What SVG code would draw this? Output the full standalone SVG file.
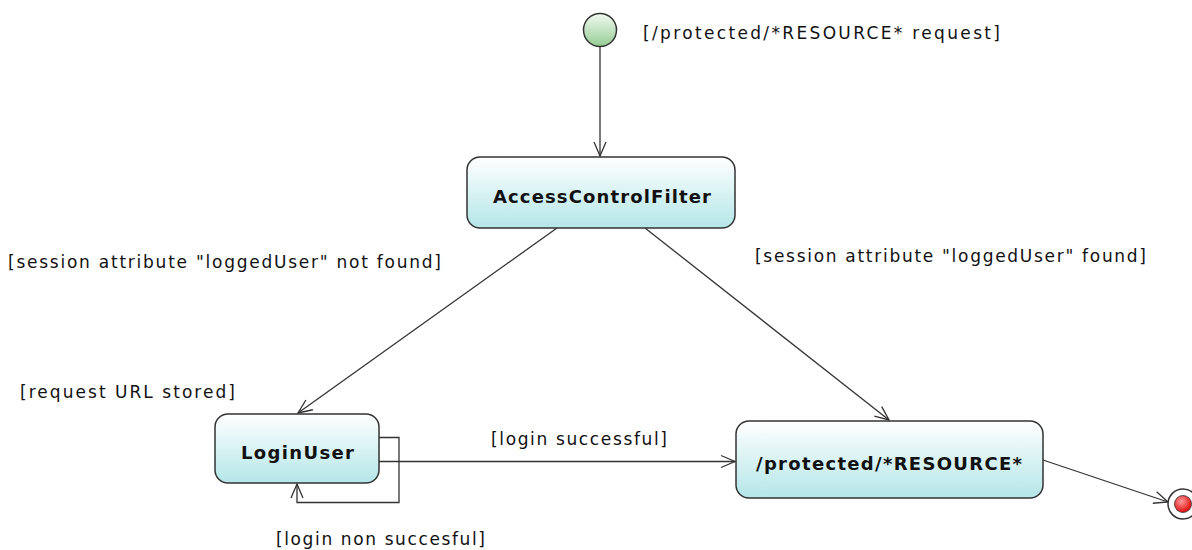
<svg xmlns="http://www.w3.org/2000/svg" width="1192" height="550" viewBox="0 0 1192 550">
<defs>
<linearGradient id="boxg" x1="0" y1="0" x2="0" y2="1">
<stop offset="0" stop-color="#ffffff"/>
<stop offset="1" stop-color="#b4e6e8"/>
</linearGradient>
<linearGradient id="startg" x1="0" y1="0" x2="0" y2="1">
<stop offset="0" stop-color="#f2faf2"/>
<stop offset="1" stop-color="#94cc94"/>
</linearGradient>
<radialGradient id="endg" cx="0.4" cy="0.35" r="0.7">
<stop offset="0" stop-color="#ff9a9a"/>
<stop offset="1" stop-color="#e00000"/>
</radialGradient>
<marker id="arr" viewBox="0 0 16 16" refX="15" refY="8" markerWidth="16" markerHeight="16" markerUnits="userSpaceOnUse" orient="auto">
<path d="M1,2 L15,8 L1,14" fill="none" stroke="#333" stroke-width="1.3"/>
</marker>
<style>
.box{fill:url(#boxg);stroke:#333;stroke-width:1.5}
.name{font-family:"DejaVu Sans",sans-serif;font-weight:bold;font-size:18px;fill:#111;text-anchor:middle}
.lbl{font-family:"DejaVu Sans",sans-serif;font-size:17px;fill:#111}
.con{fill:none;stroke:#333;stroke-width:1.3}
</style>
</defs>
<rect width="1192" height="550" fill="#fff"/>
<g id="connectors">
<line class="con" x1="600" y1="47" x2="600" y2="156" marker-end="url(#arr)"/>
<line class="con" x1="557" y1="228" x2="298" y2="413" marker-end="url(#arr)"/>
<line class="con" x1="645" y1="228" x2="889" y2="420" marker-end="url(#arr)"/>
<line class="con" x1="379" y1="461.5" x2="735" y2="461.5" marker-end="url(#arr)"/>
<polyline class="con" points="379,437.5 399,437.5 399,502.5 297,502.5 297,484" marker-end="url(#arr)"/>
<line class="con" x1="1043" y1="460" x2="1168" y2="502" marker-end="url(#arr)"/>
</g>
<g id="start">
<circle cx="600" cy="30" r="16.5" fill="url(#startg)" stroke="#333" stroke-width="1.5"/>
</g>
<g id="end">
<circle cx="1183" cy="504" r="15" fill="#fff" stroke="#333" stroke-width="1.5"/>
<circle cx="1183" cy="504" r="8.5" fill="url(#endg)" stroke="#333" stroke-width="0.8"/>
</g>
<g id="accessControlFilter">
<rect class="box" x="467" y="157" width="268" height="71" rx="13"/>
<text class="name" x="602" y="203" textLength="218" lengthAdjust="spacing">AccessControlFilter</text>
</g>
<g id="loginUser">
<rect class="box" x="215" y="414" width="164" height="69" rx="13"/>
<text class="name" x="297.5" y="459" textLength="113" lengthAdjust="spacing">LoginUser</text>
</g>
<g id="protectedResource">
<rect class="box" x="736" y="421" width="307" height="77" rx="13"/>
<text class="name" x="889" y="470" textLength="266" lengthAdjust="spacing">/protected/*RESOURCE*</text>
</g>
<g id="labels">
<text class="lbl" x="643" y="39" textLength="357" lengthAdjust="spacing">[/protected/*RESOURCE* request]</text>
<text class="lbl" x="8" y="268" textLength="433" lengthAdjust="spacing">[session attribute "loggedUser" not found]</text>
<text class="lbl" x="755" y="262" textLength="391" lengthAdjust="spacing">[session attribute "loggedUser" found]</text>
<text class="lbl" x="20" y="398" textLength="215" lengthAdjust="spacing">[request URL stored]</text>
<text class="lbl" x="491" y="445" textLength="176" lengthAdjust="spacing">[login successful]</text>
<text class="lbl" x="276" y="545" textLength="209" lengthAdjust="spacing">[login non succesful]</text>
</g>
</svg>
